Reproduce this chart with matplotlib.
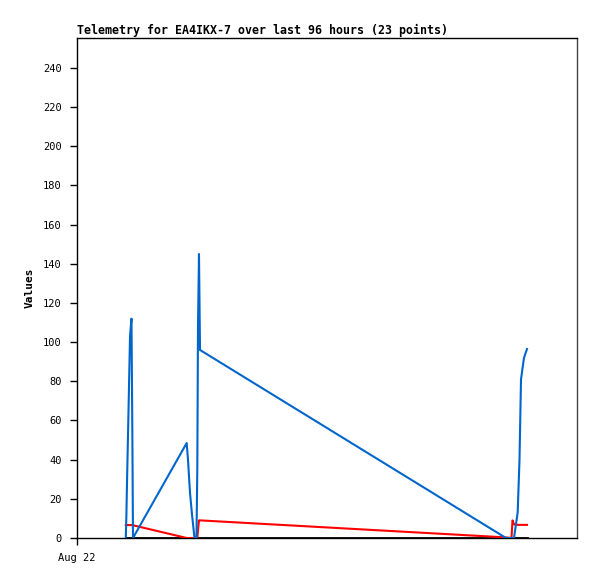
import matplotlib
matplotlib.use("Agg")
import matplotlib.pyplot as plt

# hours since Aug 22 00:00
hours = [9.37, 9.47, 9.60, 9.89, 10.18, 10.46, 10.62, 10.75, 21.06, 21.31,
         21.70, 22.08, 22.56, 22.94, 23.10, 23.23, 23.42, 23.62, 82.37, 83.42,
         83.62, 83.90, 84.61, 84.96, 85.25, 85.82, 86.40]
blue_vals = [0, 10, 28, 65, 103, 112, 56, 0, 48.5, 40,
             23, 12, 0, 0, 36, 108, 145, 96, 0, 0,
             0, 0, 13, 40, 81, 92, 96.5]
red_vals = [6.6, 6.6, 6.6, 6.6, 6.6, 6.6, 6.5, 6.5, 0, 0,
            0, 0, 0, 0, 0, 4, 9, 9, 0.3, 0,
            9, 7, 6.7, 6.7, 6.7, 6.7, 6.7]
black_vals = [0] * len(hours)

y_ticks = list(range(0, 241, 20))
x_ticks = [0]
x_labels = ["Aug 22"]

mono = "DejaVu Sans Mono"

fig = plt.figure(figsize=(5.97, 5.79), dpi=100)
ax = fig.add_axes([77 / 597, 41 / 579, 500 / 597, 500 / 579])

ax.plot(hours, black_vals, color="black", lw=2.0, zorder=2)
ax.plot(hours, red_vals, color="#ff0000", lw=1.5, zorder=3)
ax.plot(hours, blue_vals, color="#0066cc", lw=1.5, zorder=4)

ax.set_xlim(0, 96)
ax.set_ylim(0, 255.3)
ax.set_yticks(y_ticks)
ax.set_yticklabels([str(v) for v in y_ticks], family=mono, fontsize=7.5)
ax.set_xticks(x_ticks)
ax.set_xticklabels(x_labels, family=mono, fontsize=7.5)
ax.tick_params(direction="out", length=5, width=1, pad=6)

for s in ax.spines.values():
    s.set_color("black")
    s.set_linewidth(1)
ax.spines["right"].set_color("#444444")

ax.set_ylabel("Values", family=mono, fontsize=8, fontweight="bold", labelpad=6)
ax.set_title("Telemetry for EA4IKX-7 over last 96 hours (23 points)",
             family=mono, fontsize=8.35, fontweight="bold", loc="left", pad=3)

fig.savefig("out.png", dpi=100)
